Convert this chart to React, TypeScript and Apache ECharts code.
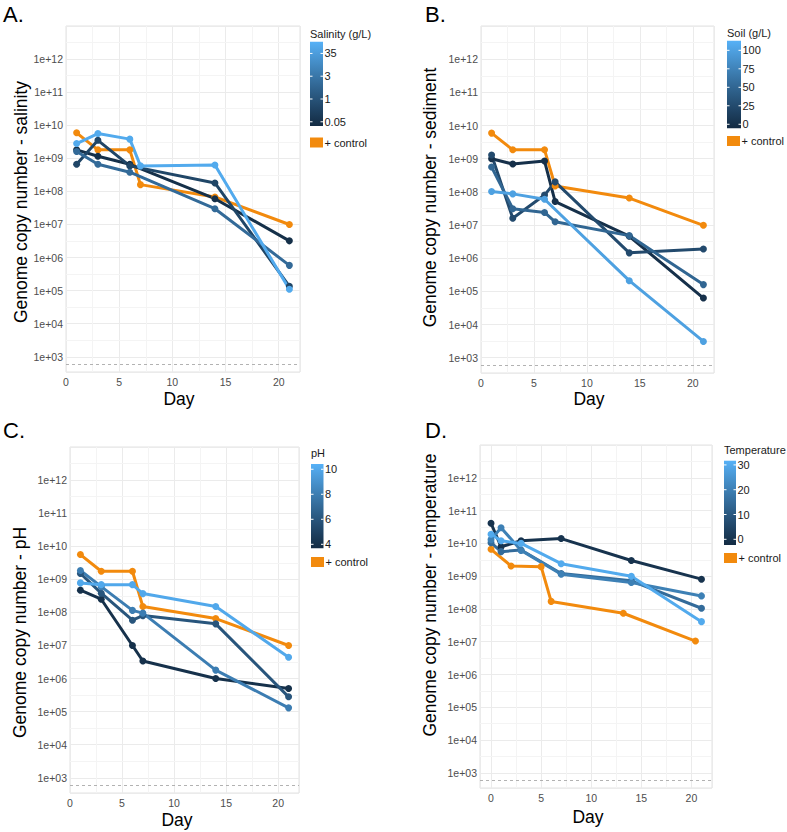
import React, { useEffect, useRef } from "react";
import * as echarts from "echarts";

const FONT = '"Liberation Sans", Arial, Helvetica, sans-serif';
const LOW_COLOR = "#132B43";
const HIGH_COLOR = "#56B1F7";
const CONTROL_COLOR = "#F28A0D";

// Axis ticks
const decadeTicks = [3, 4, 5, 6, 7, 8, 9, 10, 11, 12];
const dayTicks = [0, 5, 10, 15, 20];
const dayMinor = [2.5, 7.5, 12.5, 17.5];
const detectionLimit = 600;

// ---------- A. Salinity ----------
const salinityBreaks = [0.05, 1, 3, 35];
const daysA = [1, 3, 6, 14, 21];
const daysA35 = [1, 3, 6, 7, 14, 21];
const daysControlA = [1, 3, 6, 7, 14, 21];
const controlA = [5.9e9, 1.8e9, 1.8e9, 1.6e8, 6.8e7, 1.0e7];
const salinity005 = [1.8e9, 1.15e9, 6.6e8, 6.0e7, 3.2e6];
const salinity1 = [6.6e8, 3.5e9, 5.9e8, 1.8e8, 1.35e5];
const salinity3 = [1.6e9, 6.6e8, 3.8e8, 3.0e7, 5.8e5];
const salinity35 = [2.8e9, 5.6e9, 3.8e9, 5.9e8, 6.3e8, 1.1e5];

// ---------- B. Sediment ----------
const soilBreaks = [0, 25, 50, 75, 100];
const daysB = [1, 3, 6, 7, 14, 21];
const daysB100 = [1, 3, 6, 14, 21];
const controlB = [5.9e9, 1.85e9, 1.85e9, 1.5e8, 6.5e7, 9.8e6];
const soil0 = [1.0e9, 6.9e8, 8.5e8, 5.1e7, 4.6e6, 6.3e4];
const soil25 = [1.3e9, 1.6e7, 8.0e7, 2.0e8, 1.45e6, 1.9e6];
const soil50 = [5.6e8, 3.1e7, 2.4e7, 1.25e7, 4.8e6, 1.6e5];
const soil100 = [1.02e8, 8.7e7, 6.0e7, 2.1e5, 3.1e3];

// ---------- C. pH ----------
const pHBreaks = [4, 6, 8, 10];
const daysC = [1, 3, 6, 7, 14, 21];
const controlC = [5.6e9, 1.75e9, 1.75e9, 1.5e8, 6.5e7, 1.0e7];
const pH4 = [4.7e8, 2.5e8, 1.0e7, 3.4e6, 1.0e6, 5.0e5];
const pH6 = [1.5e9, 3.8e8, 5.8e7, 8.0e7, 4.5e7, 2.8e5];
const pH8 = [1.85e9, 6.0e8, 1.15e8, 9.5e7, 1.8e6, 1.3e5];
const pH10 = [7.8e8, 6.9e8, 6.9e8, 3.7e8, 1.5e8, 4.4e6];

// ---------- D. Temperature ----------
const temperatureBreaks = [0, 10, 20, 30];
const daysD = [0, 1, 3, 7, 14, 21];
const daysControlD = [0, 2, 5, 6, 13.2, 20.4];
const controlD = [6.6e9, 2.05e9, 1.95e9, 1.7e8, 7.4e7, 1.05e7];
const temp0 = [4.1e10, 7.9e9, 1.2e10, 1.4e10, 3.0e9, 8.1e8];
const temp15 = [1.05e10, 5.6e9, 6.3e9, 1.2e9, 7.2e8, 1.05e8];
const temp20 = [1.3e10, 3.0e10, 6.1e9, 1.15e9, 6.4e8, 2.5e8];
const temp30 = [1.9e10, 1.2e10, 1.0e10, 2.4e9, 1.0e9, 4.1e7];

// ---------- colour helpers (Lab interpolation, like ggplot's gradient) ----------
function hexToRgb(h: string) {
  const n = parseInt(h.slice(1), 16);
  return [(n >> 16) & 255, (n >> 8) & 255, n & 255];
}
function toLin(c: number) {
  c /= 255;
  return c <= 0.04045 ? c / 12.92 : Math.pow((c + 0.055) / 1.055, 2.4);
}
function fromLin(c: number) {
  const v = c <= 0.0031308 ? 12.92 * c : 1.055 * Math.pow(c, 1 / 2.4) - 0.055;
  return Math.round(Math.max(0, Math.min(1, v)) * 255);
}
const XN = 0.95047, YN = 1, ZN = 1.08883;
function fLab(t: number) {
  return t > 0.008856 ? Math.cbrt(t) : 7.787 * t + 16 / 116;
}
function fInv(t: number) {
  return t > 0.206893 ? t * t * t : (t - 16 / 116) / 7.787;
}
function rgbToLab(rgb: number[]) {
  const [r, g, b] = rgb.map(toLin);
  const x = (0.4124 * r + 0.3576 * g + 0.1805 * b) / XN;
  const y = (0.2126 * r + 0.7152 * g + 0.0722 * b) / YN;
  const z = (0.0193 * r + 0.1192 * g + 0.9505 * b) / ZN;
  const fx = fLab(x), fy = fLab(y), fz = fLab(z);
  return [116 * fy - 16, 500 * (fx - fy), 200 * (fy - fz)];
}
function labToRgb(lab: number[]) {
  const fy = (lab[0] + 16) / 116;
  const fx = fy + lab[1] / 500;
  const fz = fy - lab[2] / 200;
  const x = fInv(fx) * XN, y = fInv(fy) * YN, z = fInv(fz) * ZN;
  const r = 3.2406 * x - 1.5372 * y - 0.4986 * z;
  const g = -0.9689 * x + 1.8758 * y + 0.0415 * z;
  const b = 0.0557 * x - 0.204 * y + 1.057 * z;
  return [fromLin(r), fromLin(g), fromLin(b)];
}
const LAB_LOW = rgbToLab(hexToRgb(LOW_COLOR));
const LAB_HIGH = rgbToLab(hexToRgb(HIGH_COLOR));
function shade(t: number) {
  const lab = LAB_LOW.map((v, i) => v + (LAB_HIGH[i] - v) * t);
  const c = labToRgb(lab);
  return `rgb(${c[0]},${c[1]},${c[2]})`;
}

type Line = { days: number[]; values: number[]; t: number };

const panels = [
  {
    letter: "A.", letterX: 3, letterY: 14,
    grid: { left: 66, top: 26, width: 234, height: 346 },
    xMin: 0, xMax: 22,
    yTitle: "Genome copy number - salinity", yTitleX: 21, yTitleY: 202,
    dayX: 179, dayY: 399,
    legendTitle: "Salinity (g/L)", legX: 310, legTitleY: 34, barTop: 41.7, barH: 84.3, barW: 13, ctrlY: 137.5,
    breakLabels: salinityBreaks.map(String),
    breakFracs: salinityBreaks.map((_, i) => (i + 1 - 0.815) / 3.7),
    control: { days: daysControlA, values: controlA },
    lines: [
      { days: daysA, values: salinity005, t: 0.04 },
      { days: daysA, values: salinity1, t: 0.22 },
      { days: daysA, values: salinity3, t: 0.5 },
      { days: daysA35, values: salinity35, t: 0.95 },
    ] as Line[],
  },
  {
    letter: "B.", letterX: 425, letterY: 14,
    grid: { left: 481, top: 26, width: 233, height: 347 },
    xMin: 0, xMax: 22,
    yTitle: "Genome copy number - sediment", yTitleX: 430, yTitleY: 197.5,
    dayX: 589, dayY: 399,
    legendTitle: "Soil (g/L)", legX: 727, legTitleY: 33.3, barTop: 40.7, barH: 87.6, barW: 14, ctrlY: 136,
    breakLabels: soilBreaks.map(String),
    breakFracs: soilBreaks.map((v) => (v + 5.45) / 118.45),
    control: { days: daysB, values: controlB },
    lines: [
      { days: daysB, values: soil0, t: (0 + 5.45) / 118.45 },
      { days: daysB, values: soil25, t: (25 + 5.45) / 118.45 },
      { days: daysB, values: soil50, t: (50 + 5.45) / 118.45 },
      { days: daysB100, values: soil100, t: (100 + 5.45) / 118.45 },
    ] as Line[],
  },
  {
    letter: "C.", letterX: 3, letterY: 430,
    grid: { left: 70, top: 447, width: 229, height: 346 },
    xMin: 0, xMax: 22,
    yTitle: "Genome copy number - pH", yTitleX: 20, yTitleY: 632.5,
    dayX: 177, dayY: 820,
    legendTitle: "pH", legX: 311, legTitleY: 453.3, barTop: 464, barH: 84.3, barW: 12.5, ctrlY: 557,
    breakLabels: pHBreaks.map(String),
    breakFracs: pHBreaks.map((v) => (v - 3.68) / 6.74),
    control: { days: daysC, values: controlC },
    lines: [
      { days: daysC, values: pH4, t: (4 - 3.68) / 6.74 },
      { days: daysC, values: pH6, t: (6 - 3.68) / 6.74 },
      { days: daysC, values: pH8, t: (8 - 3.68) / 6.74 },
      { days: daysC, values: pH10, t: (10 - 3.68) / 6.74 },
    ] as Line[],
  },
  {
    letter: "D.", letterX: 425, letterY: 430,
    grid: { left: 480, top: 445, width: 232, height: 343 },
    xMin: -1.1, xMax: 22.05,
    yTitle: "Genome copy number - temperature", yTitleX: 430, yTitleY: 595,
    dayX: 588, dayY: 817,
    legendTitle: "Temperature", legX: 724, legTitleY: 450, barTop: 460.7, barH: 84.3, barW: 12, ctrlY: 553,
    breakLabels: temperatureBreaks.map(String),
    breakFracs: temperatureBreaks.map((v) => (v + 2.3) / 34),
    control: { days: daysControlD, values: controlD },
    lines: [
      { days: daysD, values: temp0, t: (0 + 2.3) / 34 },
      { days: daysD, values: temp15, t: (15 + 2.3) / 34 },
      { days: daysD, values: temp20, t: (20 + 2.3) / 34 },
      { days: daysD, values: temp30, t: (30 + 2.3) / 34 },
    ] as Line[],
  },
];

function lineSeries(idx: number, days: number[], values: number[], color: string) {
  return {
    type: "line",
    xAxisIndex: idx,
    yAxisIndex: idx,
    data: days.map((d, i) => [d, Math.log10(values[i])]),
    symbol: "circle",
    symbolSize: 7,
    showSymbol: true,
    lineStyle: { color, width: 3 },
    itemStyle: { color },
    silent: true,
    z: 3,
  };
}

function buildOption() {
  const series: any[] = [];
  const graphic: any[] = [];
  const barStops = Array.from({ length: 11 }, (_, i) => ({ offset: i / 10, color: shade(1 - i / 10) }));
  panels.forEach((p, idx) => {
    // minor gridlines + detection limit
    series.push({
      type: "line",
      xAxisIndex: idx,
      yAxisIndex: idx,
      data: [],
      silent: true,
      z: 1,
      markLine: {
        silent: true,
        z: 1,
        symbol: ["none", "none"],
        label: { show: false },
        emphasis: { disabled: true },
        lineStyle: { color: "#F4F4F4", type: "solid", width: 1 },
        data: [
          ...dayMinor.map((v) => ({ xAxis: v })),
          ...decadeTicks.map((v) => ({ yAxis: v + 0.5 })),
          {
            yAxis: Math.log10(detectionLimit),
            lineStyle: { color: "#A9A9A9", type: [3, 3], width: 0.9 },
          },
        ],
      },
    });
    series.push(lineSeries(idx, p.control.days, p.control.values, CONTROL_COLOR));
    p.lines.forEach((l) => series.push(lineSeries(idx, l.days, l.values, shade(l.t))));

    const txt = (text: string, x: number, y: number, size: number, align: string, fill = "#000", rotation = 0) => ({
      type: "text", x, y, rotation,
      style: { text, font: `${size}px ${FONT}`, fill, align, verticalAlign: "middle", textAlign: align, textVerticalAlign: "middle" },
    });

    graphic.push(txt(p.letter, p.letterX, p.letterY, 22, "left"));
    graphic.push(txt(p.yTitle, p.yTitleX, p.yTitleY, 17.5, "center", "#000", Math.PI / 2));
    graphic.push(txt("Day", p.dayX, p.dayY, 17.5, "center"));
    graphic.push(txt(p.legendTitle, p.legX, p.legTitleY, 11, "left", "#1a1a1a"));
    // colour bar
    graphic.push({
      type: "rect",
      shape: { x: p.legX, y: p.barTop, width: p.barW, height: p.barH },
      style: { fill: new echarts.graphic.LinearGradient(0, 0, 0, 1, barStops) },
    });
    p.breakFracs.forEach((f, i) => {
      const y = p.barTop + p.barH * (1 - f);
      graphic.push({
        type: "line",
        shape: { x1: p.legX, y1: y, x2: p.legX + 2.5, y2: y },
        style: { stroke: "#fff", lineWidth: 1 },
      });
      graphic.push({
        type: "line",
        shape: { x1: p.legX + p.barW - 2.5, y1: y, x2: p.legX + p.barW, y2: y },
        style: { stroke: "#fff", lineWidth: 1 },
      });
      graphic.push(txt(p.breakLabels[i], p.legX + p.barW + 1.5, y, 11, "left", "#1a1a1a"));
    });
    // control key
    graphic.push({
      type: "rect",
      shape: { x: p.legX, y: p.ctrlY, width: 13, height: 10 },
      style: { fill: CONTROL_COLOR },
    });
    graphic.push(txt("+ control", p.legX + 14.5, p.ctrlY + 5, 11, "left", "#1a1a1a"));
  });

  return {
    animation: false,
    backgroundColor: "#ffffff",
    textStyle: { fontFamily: FONT },
    grid: panels.map((p) => ({
      ...p.grid,
      show: true,
      backgroundColor: "#ffffff",
      borderColor: "#E3E3E3",
      borderWidth: 1,
      containLabel: false,
      outerBoundsMode: "none",
    })),
    xAxis: panels.map((p, idx) => ({
      gridIndex: idx,
      type: "value",
      min: p.xMin,
      max: p.xMax,
      splitNumber: 5,
      minInterval: 5,
      maxInterval: 5,
      axisLine: { show: false },
      axisTick: { show: false },
      axisLabel: {
        fontSize: 10.5,
        fontFamily: FONT,
        color: "#4D4D4D",
        margin: 4,
        showMinLabel: true,
        showMaxLabel: true,
        formatter: (v: number) => (dayTicks.includes(v) ? String(Math.abs(v)) : ""),
      },
      splitLine: { show: true, lineStyle: { color: "#EBEBEB", width: 1 } },
    })),
    yAxis: panels.map((p, idx) => ({
      gridIndex: idx,
      type: "value",
      min: 2.54,
      max: 13,
      splitNumber: 10,
      minInterval: 1,
      maxInterval: 1,
      axisLine: { show: false },
      axisTick: { show: false },
      axisLabel: {
        fontSize: 10.5,
        fontFamily: FONT,
        color: "#4D4D4D",
        margin: 3,
        formatter: (v: number) => {
          const r = Math.round(v);
          if (Math.abs(v - r) > 1e-6 || !decadeTicks.includes(r)) return "";
          return "1e+" + (r < 10 ? "0" + r : String(r));
        },
      },
      splitLine: { show: true, lineStyle: { color: "#EBEBEB", width: 1 } },
    })),
    series,
    graphic,
  };
}

export default function App() {
  const ref = useRef<HTMLDivElement>(null);
  useEffect(() => {
    document.body.style.margin = "0";
    if (!ref.current) return;
    const chart = echarts.init(ref.current, undefined, { renderer: "svg" });
    chart.setOption(buildOption() as any);
    return () => chart.dispose();
  }, []);
  return <div ref={ref} style={{ width: 787, height: 832 }} />;
}
